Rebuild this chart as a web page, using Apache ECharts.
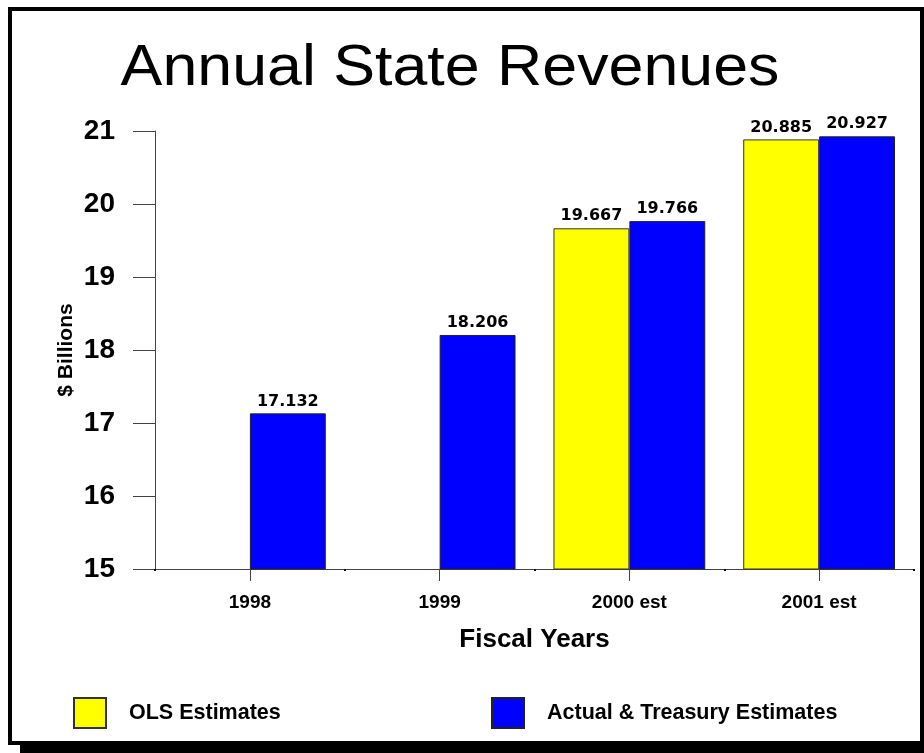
<!DOCTYPE html>
<html>
<head>
<meta charset="utf-8">
<title>Annual State Revenues</title>
<script src="https://cdn.jsdelivr.net/npm/echarts@6/dist/echarts.min.js"></script>
<style>
  html, body { margin: 0; padding: 0; background: #ffffff; }
  #chart { width: 924px; height: 753px; }
</style>
</head>
<body>
<div id="chart"></div>
<script>
// Fiscal years on the category axis
const fiscalYears = ['1998', '1999', '2000 est', '2001 est'];
// Revenue in $ billions; no OLS estimate for the actual years
const olsEstimates = [null, null, 19.667, 20.885];
const treasuryEstimates = [17.132, 18.206, 19.766, 20.927];
// Value axis ticks
const yTicks = [15, 16, 17, 18, 19, 20, 21];

const SANS = "'Liberation Sans', Arial, sans-serif";
const WIDE = "'DejaVu Sans', sans-serif";

const chart = echarts.init(document.getElementById('chart'), null, { renderer: 'canvas' });

const valueLabel = {
  show: true,
  position: 'top',
  distance: 4,
  color: '#000',
  fontFamily: WIDE,
  fontWeight: 'bold',
  fontSize: 16
};

chart.setOption({
  backgroundColor: '#ffffff',
  animation: false,
  graphic: {
    elements: [
      // drop shadow and framed panel behind the chart
      { type: 'rect', z: -20, silent: true,
        shape: { x: 20, y: 19, width: 920, height: 740 },
        style: { fill: '#000' } },
      { type: 'rect', z: -19, silent: true,
        shape: { x: 10, y: 9, width: 912, height: 734 },
        style: { fill: '#fff', stroke: '#000', lineWidth: 4 } },
      // slightly widened heading
      { type: 'text', z: 10, silent: true,
        x: 450, y: 41, scaleX: 1.1, scaleY: 1,
        style: {
          text: 'Annual State Revenues',
          x: 0, y: 0,
          align: 'center', verticalAlign: 'top',
          fontFamily: SANS, fontWeight: 'normal', fontSize: 57, fill: '#000'
        } }
    ]
  },
  legend: [
    {
      left: 68, top: 692,
      icon: 'rect',
      itemWidth: 32, itemHeight: 30,
      data: ['OLS Estimates'],
      textStyle: { fontFamily: SANS, fontWeight: 'bold', fontSize: 21.5, color: '#000', padding: [0, 0, 0, 18] }
    },
    {
      left: 486, top: 692,
      icon: 'rect',
      itemWidth: 32, itemHeight: 30,
      data: ['Actual & Treasury Estimates'],
      textStyle: { fontFamily: SANS, fontWeight: 'bold', fontSize: 21.5, color: '#000', padding: [0, 0, 0, 18] }
    }
  ],
  grid: { left: 155, right: 10, top: 131, bottom: 184, containLabel: false },
  xAxis: [
    {
      type: 'category',
      data: fiscalYears,
      name: 'Fiscal Years',
      nameLocation: 'middle',
      nameGap: 58,
      nameTextStyle: { fontFamily: SANS, fontWeight: 'bold', fontSize: 26, color: '#000' },
      axisLine: { show: true, lineStyle: { color: '#444', width: 1 } },
      axisTick: { show: true, alignWithLabel: true, length: 12, lineStyle: { color: '#444' } },
      axisLabel: { margin: 24, color: '#000', fontFamily: SANS, fontWeight: 'bold', fontSize: 19 },
      splitLine: { show: false }
    },
    {
      // small marks at the category boundaries
      type: 'category',
      data: fiscalYears,
      position: 'bottom',
      axisLine: { show: false },
      axisTick: { show: true, length: 2, lineStyle: { color: '#000', width: 2 } },
      axisLabel: { show: false },
      splitLine: { show: false }
    }
  ],
  yAxis: {
    type: 'value',
    min: yTicks[0],
    max: yTicks[yTicks.length - 1],
    interval: 1,
    name: '$ Billions',
    nameLocation: 'middle',
    nameRotate: 90,
    nameGap: 78,
    nameMoveOverlap: false,
    nameTextStyle: { fontFamily: SANS, fontWeight: 'bold', fontSize: 21, color: '#000' },
    axisLine: { show: true, lineStyle: { color: '#444', width: 1 } },
    axisTick: { show: true, length: 22, lineStyle: { color: '#444' } },
    axisLabel: { margin: 40, color: '#000', fontFamily: SANS, fontWeight: 'bold', fontSize: 28 },
    splitLine: { show: false }
  },
  series: [
    {
      name: 'OLS Estimates',
      type: 'bar',
      data: olsEstimates,
      barGap: '0%',
      barCategoryGap: '20%',
      itemStyle: { color: '#ffff00', borderColor: '#333', borderWidth: 1 },
      label: valueLabel
    },
    {
      name: 'Actual & Treasury Estimates',
      type: 'bar',
      data: treasuryEstimates,
      barGap: '0%',
      barCategoryGap: '20%',
      itemStyle: { color: '#0000ff', borderColor: '#222', borderWidth: 1 },
      label: valueLabel
    }
  ]
});
</script>
</body>
</html>
